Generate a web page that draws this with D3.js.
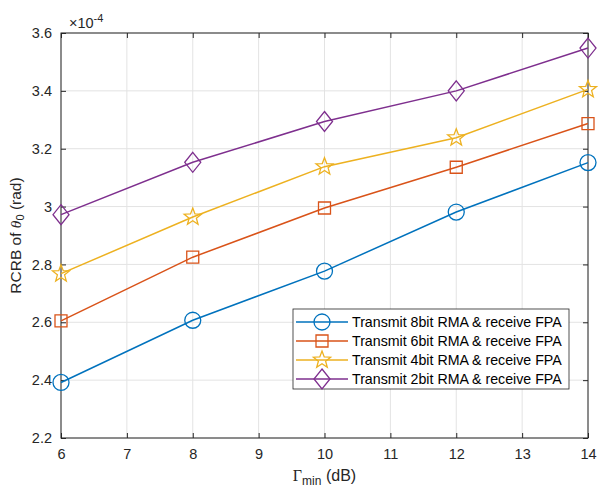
<!DOCTYPE html>
<html>
<head>
<meta charset="utf-8">
<script src="https://cdn.jsdelivr.net/npm/d3@7"></script>
<style>
  body { margin: 0; background: #fff; }
  text { font-family: "Liberation Sans", Arial, sans-serif; }
</style>
</head>
<body>
<div id="chart"></div>
<script>
// data (values in units of 1e-4 rad)
const gammaMin = [6, 8, 10, 12, 14];
const rma8bit = [2.392, 2.607, 2.777, 2.981, 3.152];
const rma6bit = [2.605, 2.825, 2.995, 3.136, 3.287];
const rma4bit = [2.768, 2.964, 3.138, 3.238, 3.405];
const rma2bit = [2.972, 3.153, 3.294, 3.400, 3.548];
const seriesNames = [
  "Transmit 8bit RMA & receive FPA",
  "Transmit 6bit RMA & receive FPA",
  "Transmit 4bit RMA & receive FPA",
  "Transmit 2bit RMA & receive FPA"
];
const xTicks = [6, 7, 8, 9, 10, 11, 12, 13, 14];
const yTicks = [2.2, 2.4, 2.6, 2.8, 3.0, 3.2, 3.4, 3.6];

const width = 598, height = 489;
const margin = {left: 61, right: 10, top: 33, bottom: 51};
const colors = ["#0072BD", "#D95319", "#EDB120", "#7E2F8E"];
const markers = ["circle", "square", "star", "diamond"];

const series = [rma8bit, rma6bit, rma4bit, rma2bit].map((vals, i) => ({
  name: seriesNames[i], color: colors[i], marker: markers[i],
  points: vals.map((v, j) => ({x: gammaMin[j], y: v}))
}));

const svg = d3.select("#chart").append("svg")
  .attr("width", width).attr("height", height);

const x = d3.scaleLinear().domain([6, 14]).range([margin.left, width - margin.right]);
const y = d3.scaleLinear().domain([2.2, 3.6]).range([height - margin.bottom, margin.top]);

const x0 = x.range()[0], x1 = x.range()[1], y0 = y.range()[0], y1 = y.range()[1];

// grid
svg.append("g").selectAll("line").data(xTicks).enter().append("line")
  .attr("x1", d => x(d)).attr("x2", d => x(d)).attr("y1", y0).attr("y2", y1)
  .attr("stroke", "#e3e3e3").attr("stroke-width", 1);
svg.append("g").selectAll("line").data(yTicks).enter().append("line")
  .attr("y1", d => y(d)).attr("y2", d => y(d)).attr("x1", x0).attr("x2", x1)
  .attr("stroke", "#e3e3e3").attr("stroke-width", 1);

// axes with inward ticks
const fmtY = d => d3.format(".1f")(d).replace(/^3\.0$/, "3");
svg.append("g").attr("transform", `translate(0,${y0})`)
  .call(d3.axisBottom(x).tickValues(xTicks).tickSizeInner(-5).tickSizeOuter(0).tickPadding(11))
  .call(g => g.select(".domain").remove());
svg.append("g").attr("transform", `translate(0,${y1})`)
  .call(d3.axisTop(x).tickValues(xTicks).tickSizeInner(-5).tickSizeOuter(0).tickFormat(""))
  .call(g => g.select(".domain").remove());
svg.append("g").attr("transform", `translate(${x0},0)`)
  .call(d3.axisLeft(y).tickValues(yTicks).tickFormat(fmtY).tickSizeInner(-5).tickSizeOuter(0).tickPadding(9))
  .call(g => g.select(".domain").remove());
svg.append("g").attr("transform", `translate(${x1},0)`)
  .call(d3.axisRight(y).tickValues(yTicks).tickSizeInner(-5).tickSizeOuter(0).tickFormat(""))
  .call(g => g.select(".domain").remove());
svg.selectAll(".tick text").attr("font-size", 14.5).attr("fill", "#262626")
  .attr("font-family", "Liberation Sans, Arial, sans-serif");
svg.selectAll(".tick line").attr("stroke", "#262626");

svg.append("rect").attr("x", x0).attr("y", y1).attr("width", x1 - x0).attr("height", y0 - y1)
  .attr("fill", "none").attr("stroke", "#262626").attr("stroke-width", 1);

// exponent label
const ex = svg.append("text").attr("x", x0 + 8).attr("y", y1 - 5)
  .attr("font-size", 14.5).attr("fill", "#262626");
ex.append("tspan").text("\u00d710");
ex.append("tspan").attr("dy", -6).attr("font-size", 11).text("-4");

// marker shapes
function markerPath(type) {
  if (type === "circle") return d3.symbol(d3.symbolCircle, Math.PI * 8 * 8)();
  if (type === "square") return "M-6,-6H6V6H-6Z";
  if (type === "diamond") return "M0,-10L8,0L0,10L-8,0Z";
  // five-pointed star
  const pts = [];
  for (let k = 0; k < 10; k++) {
    const r = k % 2 === 0 ? 9 : 3.8;
    const a = -Math.PI / 2 + k * Math.PI / 5;
    pts.push([r * Math.cos(a), r * Math.sin(a)]);
  }
  return "M" + pts.map(p => p.join(",")).join("L") + "Z";
}

const line = d3.line().x(d => x(d.x)).y(d => y(d.y));

const sg = svg.append("g").selectAll("g").data(series).enter().append("g");
sg.append("path").attr("d", d => line(d.points))
  .attr("fill", "none").attr("stroke", d => d.color).attr("stroke-width", 1.5);
sg.each(function(s) {
  d3.select(this).selectAll("path.m").data(s.points).enter().append("path")
    .attr("class", "m")
    .attr("d", markerPath(s.marker))
    .attr("transform", d => `translate(${x(d.x)},${y(d.y)})`)
    .attr("fill", "none").attr("stroke", s.color).attr("stroke-width", 1.3);
});

// legend
const lg = svg.append("g").attr("transform", "translate(293,309)");
lg.append("rect").attr("width", 276).attr("height", 80)
  .attr("fill", "#fff").attr("stroke", "#262626").attr("stroke-width", 0.8);
const items = lg.selectAll("g").data(series).enter().append("g")
  .attr("transform", (d, i) => `translate(0,${13 + i * 19})`);
items.append("line").attr("x1", 3).attr("x2", 55)
  .attr("stroke", d => d.color).attr("stroke-width", 1.5);
items.append("path").attr("d", d => markerPath(d.marker))
  .attr("transform", "translate(29,0)")
  .attr("fill", "none").attr("stroke", d => d.color).attr("stroke-width", 1.3);
items.append("text").attr("x", 59).attr("y", 4.5).attr("font-size", 14.2)
  .attr("fill", "#000").text(d => d.name);

// axis labels
const xl = svg.append("text").attr("x", (x0 + x1) / 2).attr("y", 481)
  .attr("text-anchor", "middle").attr("font-size", 16).attr("fill", "#262626");
xl.append("tspan").attr("font-family", "Liberation Serif, Times New Roman, serif").text("\u0393");
xl.append("tspan").attr("font-size", 12).attr("dy", 4).text("min");
xl.append("tspan").attr("dy", -4).text(" (dB)");

const yl = svg.append("text").attr("transform", `translate(21,${(y0 + y1) / 2}) rotate(-90)`)
  .attr("text-anchor", "middle").attr("font-size", 15.5).attr("fill", "#262626");
yl.append("tspan").text("RCRB of ");
yl.append("tspan").attr("font-family", "Liberation Serif, Times New Roman, serif")
  .attr("font-style", "italic").text("\u03b8");
yl.append("tspan").attr("font-size", 11).attr("dy", 3).text("0");
yl.append("tspan").attr("dy", -3).text(" (rad)");
</script>
</body>
</html>
